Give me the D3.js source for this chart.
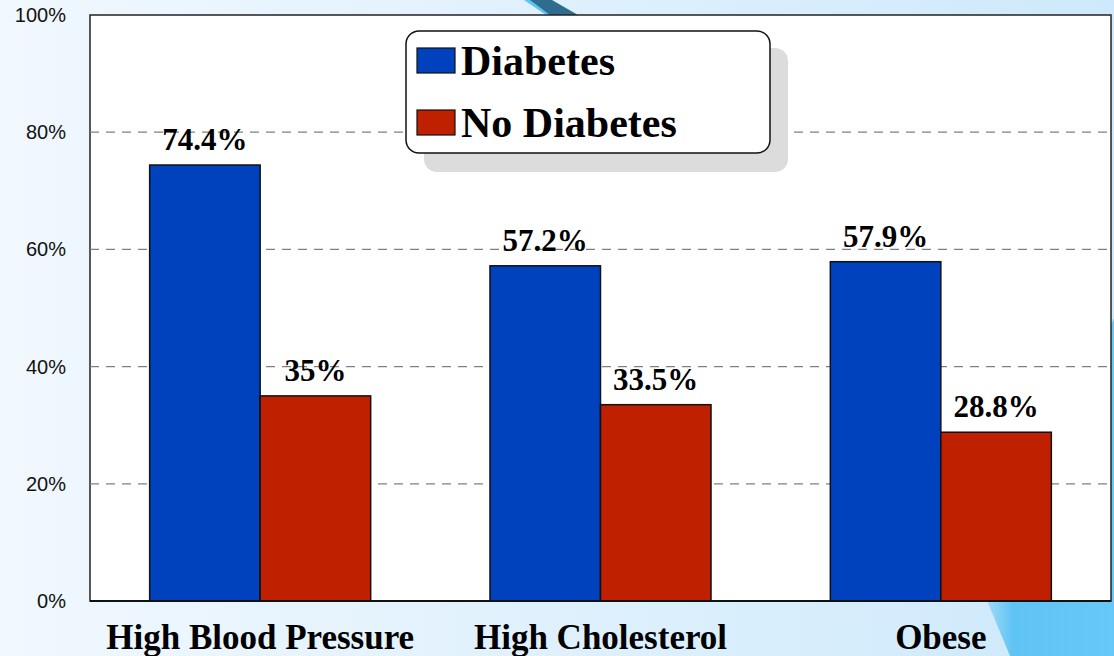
<!DOCTYPE html>
<html>
<head>
<meta charset="utf-8">
<script src="https://cdn.jsdelivr.net/npm/d3@7"></script>
<style>
  html, body { margin: 0; padding: 0; overflow: hidden; }
  svg { display: block; }
</style>
</head>
<body>
<svg id="chart" width="1114" height="656"></svg>
<script>
// Prevalence of risk factors in people with and without diabetes
const categories = ["High Blood Pressure", "High Cholesterol", "Obese"];
const seriesNames = ["Diabetes", "No Diabetes"];
const diabetesValues = [74.4, 57.2, 57.9];
const noDiabetesValues = [35, 33.5, 28.8];
const valueLabels = [["74.4%", "57.2%", "57.9%"], ["35%", "33.5%", "28.8%"]];
const yTicks = [0, 20, 40, 60, 80, 100];
const seriesColors = ["#0041be", "#bf2100"];

const W = 1114, H = 656;
const plot = { left: 90, right: 1111, top: 15, bottom: 601 };
const serif = "'Liberation Serif', 'Times New Roman', serif";

const svg = d3.select("#chart");

// Slide-style background
const defs = svg.append("defs");
const bg = defs.append("linearGradient").attr("id", "bg").attr("x1", 0).attr("x2", 1).attr("y1", 0).attr("y2", 0);
bg.append("stop").attr("offset", "0%").attr("stop-color", "#f1f8fe");
bg.append("stop").attr("offset", "100%").attr("stop-color", "#cde9fb");
const sw = defs.append("linearGradient").attr("id", "swoosh").attr("x1", 0).attr("x2", 1).attr("y1", 0).attr("y2", 0);
sw.append("stop").attr("offset", "0%").attr("stop-color", "#9ed9f8");
sw.append("stop").attr("offset", "20%").attr("stop-color", "#5fc3f3");
sw.append("stop").attr("offset", "100%").attr("stop-color", "#66c8f7");

svg.append("rect").attr("width", W).attr("height", H).attr("fill", "url(#bg)");

// decorative shapes behind the plot
svg.append("path")
  .attr("d", "M1114,318 C1070,420 1010,520 988,603 L1010,656 L1114,656 Z")
  .attr("fill", "url(#swoosh)");
svg.append("path")
  .attr("d", "M524,0 L532,0 L552,15 L546,15 Z")
  .attr("fill", "#5ec4f5");
svg.append("path")
  .attr("d", "M530,0 L552,0 L578,15 L550,15 Z")
  .attr("fill", "#2e6d8d");

// Scales
const x0 = d3.scaleBand().domain(categories).range([plot.left, plot.right])
  .paddingInner(0.3506).paddingOuter(0.1753);
const x1 = d3.scaleBand().domain(seriesNames).range([0, x0.bandwidth()]);
const y = d3.scaleLinear().domain([0, 100]).range([plot.bottom, plot.top]);

// Plot area
svg.append("rect")
  .attr("x", plot.left).attr("y", plot.top)
  .attr("width", plot.right - plot.left).attr("height", plot.bottom - plot.top)
  .attr("fill", "#ffffff").attr("stroke", "#222").attr("stroke-width", 1.5);

// Gridlines
svg.append("g").selectAll("line")
  .data(yTicks.filter(t => t > 0 && t < 100))
  .join("line")
  .attr("x1", plot.left).attr("x2", plot.right)
  .attr("y1", d => y(d)).attr("y2", d => y(d))
  .attr("stroke", "#808080").attr("stroke-width", 1.3)
  .attr("stroke-dasharray", "9,7");

// Y axis labels
const yAxis = d3.axisLeft(y).tickValues(yTicks).tickSize(0).tickPadding(24)
  .tickFormat(d => d + "%");
const gy = svg.append("g").attr("transform", `translate(${plot.left},0)`).call(yAxis);
gy.select(".domain").remove();
gy.selectAll("text")
  .attr("font-family", "Arial, 'Liberation Sans', sans-serif")
  .attr("font-size", 20).attr("fill", "#111");

// Bars
const data = categories.map((c, i) => ({
  cat: c,
  vals: [
    { s: seriesNames[0], v: diabetesValues[i], label: valueLabels[0][i], color: seriesColors[0] },
    { s: seriesNames[1], v: noDiabetesValues[i], label: valueLabels[1][i], color: seriesColors[1] }
  ]
}));

const groups = svg.append("g").selectAll("g")
  .data(data).join("g")
  .attr("transform", d => `translate(${x0(d.cat)},0)`);

groups.selectAll("rect")
  .data(d => d.vals).join("rect")
  .attr("x", d => x1(d.s))
  .attr("y", d => y(d.v))
  .attr("width", x1.bandwidth())
  .attr("height", d => y(0) - y(d.v))
  .attr("fill", d => d.color)
  .attr("stroke", "#111").attr("stroke-width", 1.5);

groups.selectAll("text")
  .data(d => d.vals).join("text")
  .attr("x", d => x1(d.s) + x1.bandwidth() / 2)
  .attr("y", d => y(d.v) - 15)
  .attr("text-anchor", "middle")
  .attr("font-family", serif)
  .attr("font-weight", "bold").attr("font-size", 31).attr("fill", "#000")
  .text(d => d.label);

// Baseline
svg.append("line")
  .attr("x1", plot.left).attr("x2", plot.right)
  .attr("y1", plot.bottom).attr("y2", plot.bottom)
  .attr("stroke", "#111").attr("stroke-width", 2);

// Category labels
const xAxis = d3.axisBottom(x0).tickSize(0).tickPadding(24);
const gx = svg.append("g").attr("transform", `translate(0,${plot.bottom})`).call(xAxis);
gx.select(".domain").remove();
gx.selectAll("text")
  .attr("font-family", serif)
  .attr("font-weight", "bold").attr("font-size", 35).attr("fill", "#000")
  .attr("dy", "0.68em");

// Legend
const lg = svg.append("g");
lg.append("rect").attr("x", 424).attr("y", 48).attr("width", 364).attr("height", 124)
  .attr("rx", 13).attr("fill", "#dcdcdc");
lg.append("rect").attr("x", 406).attr("y", 31).attr("width", 364).attr("height", 122)
  .attr("rx", 13).attr("fill", "#ffffff").attr("stroke", "#111").attr("stroke-width", 1.5);
const items = lg.selectAll("g.item").data(seriesNames).join("g").attr("class", "item")
  .attr("transform", (d, i) => `translate(0,${i * 62})`);
items.append("rect").attr("x", 417).attr("y", 48).attr("width", 38).attr("height", 25)
  .attr("fill", (d, i) => seriesColors[i]).attr("stroke", "#111").attr("stroke-width", 1.2);
items.append("text").attr("x", 461).attr("y", 75)
  .attr("font-family", serif)
  .attr("font-weight", "bold").attr("font-size", 42).attr("fill", "#000")
  .text(d => d);
</script>
</body>
</html>
